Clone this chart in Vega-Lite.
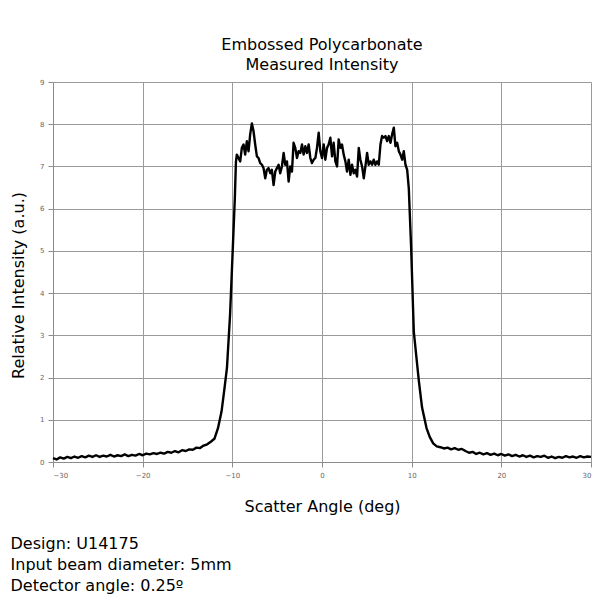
{
  "$schema": "https://vega.github.io/schema/vega-lite/v6.json",
  "background": "white",
  "padding": {"left": 10, "top": 37, "right": 10, "bottom": 10},
  "config": {
    "view": {"stroke": null},
    "font": "DejaVu Sans",
    "axis": {
      "domainColor": "#8c8c8c",
      "gridColor": "#9a9a9a",
      "gridWidth": 1,
      "tickColor": "#8c8c8c",
      "tickSize": 5,
      "labelFont": "DejaVu Sans",
      "labelFontSize": 7,
      "labelColor": "#666666",
      "titleFont": "DejaVu Sans",
      "titleFontSize": 16,
      "titleFontWeight": "normal",
      "titleColor": "black"
    }
  },
  "title": {
    "text": ["Design: U14175", "Input beam diameter: 5mm", "Detector angle: 0.25º"],
    "orient": "bottom",
    "anchor": "start",
    "frame": "bounds",
    "font": "DejaVu Sans",
    "fontSize": 16,
    "fontWeight": "normal",
    "lineHeight": 21,
    "color": "black",
    "offset": 22
  },
  "vconcat": [
    {
      "width": 538,
      "height": 380,
      "title": {
        "text": ["Embossed Polycarbonate", "Measured Intensity"],
        "font": "DejaVu Sans",
        "fontSize": 16,
        "fontWeight": "normal",
        "lineHeight": 20,
        "color": "black",
        "offset": 5
      },
      "data": {
        "values": [
          {"angle": -30.0, "intensity": 0.09}, {"angle": -29.6, "intensity": 0.06}, {"angle": -29.2, "intensity": 0.11}, {"angle": -28.8, "intensity": 0.08},
          {"angle": -28.4, "intensity": 0.12}, {"angle": -28.0, "intensity": 0.09}, {"angle": -27.6, "intensity": 0.13}, {"angle": -27.2, "intensity": 0.10},
          {"angle": -26.8, "intensity": 0.14}, {"angle": -26.4, "intensity": 0.11}, {"angle": -26.0, "intensity": 0.15}, {"angle": -25.6, "intensity": 0.12},
          {"angle": -25.2, "intensity": 0.16}, {"angle": -24.8, "intensity": 0.12}, {"angle": -24.4, "intensity": 0.15}, {"angle": -24.0, "intensity": 0.13},
          {"angle": -23.6, "intensity": 0.17}, {"angle": -23.2, "intensity": 0.13}, {"angle": -22.8, "intensity": 0.16}, {"angle": -22.4, "intensity": 0.14},
          {"angle": -22.0, "intensity": 0.18}, {"angle": -21.6, "intensity": 0.14}, {"angle": -21.2, "intensity": 0.17}, {"angle": -20.8, "intensity": 0.15},
          {"angle": -20.4, "intensity": 0.19}, {"angle": -20.0, "intensity": 0.16}, {"angle": -19.6, "intensity": 0.20}, {"angle": -19.2, "intensity": 0.18},
          {"angle": -18.8, "intensity": 0.21}, {"angle": -18.4, "intensity": 0.19}, {"angle": -18.0, "intensity": 0.22}, {"angle": -17.6, "intensity": 0.20},
          {"angle": -17.2, "intensity": 0.24}, {"angle": -16.8, "intensity": 0.22}, {"angle": -16.4, "intensity": 0.26}, {"angle": -16.0, "intensity": 0.23},
          {"angle": -15.6, "intensity": 0.28}, {"angle": -15.2, "intensity": 0.26}, {"angle": -14.8, "intensity": 0.30}, {"angle": -14.4, "intensity": 0.29},
          {"angle": -14.0, "intensity": 0.34}, {"angle": -13.6, "intensity": 0.33}, {"angle": -13.2, "intensity": 0.39}, {"angle": -12.8, "intensity": 0.42},
          {"angle": -12.4, "intensity": 0.48}, {"angle": -12.0, "intensity": 0.55}, {"angle": -11.6, "intensity": 0.80}, {"angle": -11.2, "intensity": 1.20},
          {"angle": -10.9, "intensity": 1.70}, {"angle": -10.6, "intensity": 2.23}, {"angle": -10.25, "intensity": 3.50}, {"angle": -9.96, "intensity": 5.00},
          {"angle": -9.72, "intensity": 6.26}, {"angle": -9.6, "intensity": 7.10},
          {"angle": -9.50, "intensity": 7.28}, {"angle": -9.31, "intensity": 7.20}, {"angle": -9.12, "intensity": 7.12}, {"angle": -8.94, "intensity": 7.44},
          {"angle": -8.75, "intensity": 7.52}, {"angle": -8.57, "intensity": 7.28}, {"angle": -8.38, "intensity": 7.60}, {"angle": -8.19, "intensity": 7.36},
          {"angle": -8.01, "intensity": 7.76}, {"angle": -7.82, "intensity": 8.02}, {"angle": -7.64, "intensity": 7.84}, {"angle": -7.45, "intensity": 7.52},
          {"angle": -7.26, "intensity": 7.24}, {"angle": -7.08, "intensity": 7.20}, {"angle": -6.89, "intensity": 7.08}, {"angle": -6.70, "intensity": 7.04},
          {"angle": -6.52, "intensity": 6.96}, {"angle": -6.33, "intensity": 6.72}, {"angle": -6.15, "intensity": 6.92}, {"angle": -5.96, "intensity": 6.96},
          {"angle": -5.77, "intensity": 6.84}, {"angle": -5.59, "intensity": 6.92}, {"angle": -5.40, "intensity": 6.56}, {"angle": -5.21, "intensity": 6.88},
          {"angle": -5.03, "intensity": 6.96}, {"angle": -4.84, "intensity": 7.04}, {"angle": -4.66, "intensity": 6.84}, {"angle": -4.47, "intensity": 7.00},
          {"angle": -4.28, "intensity": 7.32}, {"angle": -4.10, "intensity": 7.04}, {"angle": -3.91, "intensity": 7.12}, {"angle": -3.72, "intensity": 6.64},
          {"angle": -3.54, "intensity": 7.00}, {"angle": -3.35, "intensity": 6.88}, {"angle": -3.17, "intensity": 7.56}, {"angle": -2.98, "intensity": 7.44},
          {"angle": -2.79, "intensity": 7.20}, {"angle": -2.61, "intensity": 7.36}, {"angle": -2.42, "intensity": 7.32}, {"angle": -2.23, "intensity": 7.52},
          {"angle": -2.05, "intensity": 7.28}, {"angle": -1.86, "intensity": 7.48}, {"angle": -1.68, "intensity": 7.32}, {"angle": -1.49, "intensity": 7.52},
          {"angle": -1.30, "intensity": 7.20}, {"angle": -1.12, "intensity": 7.08}, {"angle": -0.93, "intensity": 7.16}, {"angle": -0.74, "intensity": 7.20},
          {"angle": -0.56, "intensity": 7.44}, {"angle": -0.37, "intensity": 7.80}, {"angle": -0.19, "intensity": 7.36}, {"angle": 0.00, "intensity": 7.20},
          {"angle": 0.19, "intensity": 7.52}, {"angle": 0.37, "intensity": 7.16}, {"angle": 0.56, "intensity": 7.44}, {"angle": 0.74, "intensity": 7.52},
          {"angle": 0.93, "intensity": 7.68}, {"angle": 1.12, "intensity": 7.24}, {"angle": 1.30, "intensity": 7.56}, {"angle": 1.49, "intensity": 7.12},
          {"angle": 1.68, "intensity": 7.00}, {"angle": 1.86, "intensity": 7.64}, {"angle": 2.05, "intensity": 7.44}, {"angle": 2.23, "intensity": 7.52},
          {"angle": 2.42, "intensity": 7.28}, {"angle": 2.61, "intensity": 7.12}, {"angle": 2.79, "intensity": 6.88}, {"angle": 2.98, "intensity": 7.16},
          {"angle": 3.17, "intensity": 6.80}, {"angle": 3.35, "intensity": 7.04}, {"angle": 3.54, "intensity": 6.84}, {"angle": 3.72, "intensity": 6.92},
          {"angle": 3.91, "intensity": 6.76}, {"angle": 4.10, "intensity": 7.44}, {"angle": 4.28, "intensity": 7.16}, {"angle": 4.47, "intensity": 7.00},
          {"angle": 4.66, "intensity": 6.72}, {"angle": 4.84, "intensity": 7.00}, {"angle": 5.03, "intensity": 7.32}, {"angle": 5.21, "intensity": 7.04},
          {"angle": 5.40, "intensity": 7.12}, {"angle": 5.59, "intensity": 7.04}, {"angle": 5.77, "intensity": 7.16}, {"angle": 5.96, "intensity": 7.04},
          {"angle": 6.15, "intensity": 7.12}, {"angle": 6.33, "intensity": 7.04}, {"angle": 6.52, "intensity": 7.52}, {"angle": 6.70, "intensity": 7.72},
          {"angle": 6.89, "intensity": 7.68}, {"angle": 7.08, "intensity": 7.72}, {"angle": 7.26, "intensity": 7.60}, {"angle": 7.45, "intensity": 7.72},
          {"angle": 7.64, "intensity": 7.56}, {"angle": 7.82, "intensity": 7.76}, {"angle": 8.01, "intensity": 7.92}, {"angle": 8.19, "intensity": 7.48},
          {"angle": 8.38, "intensity": 7.56}, {"angle": 8.57, "intensity": 7.36}, {"angle": 8.75, "intensity": 7.28}, {"angle": 8.94, "intensity": 7.16},
          {"angle": 9.12, "intensity": 7.36}, {"angle": 9.31, "intensity": 7.04}, {"angle": 9.50, "intensity": 6.92}, {"angle": 9.68, "intensity": 6.48},
          {"angle": 9.94, "intensity": 5.08}, {"angle": 10.24, "intensity": 3.08}, {"angle": 10.80, "intensity": 1.92}, {"angle": 11.16, "intensity": 1.29},
          {"angle": 11.65, "intensity": 0.81}, {"angle": 12.0, "intensity": 0.60}, {"angle": 12.4, "intensity": 0.44}, {"angle": 12.8, "intensity": 0.37},
          {"angle": 13.2, "intensity": 0.35}, {"angle": 13.6, "intensity": 0.32}, {"angle": 14.0, "intensity": 0.34}, {"angle": 14.4, "intensity": 0.30},
          {"angle": 14.8, "intensity": 0.33}, {"angle": 15.2, "intensity": 0.29}, {"angle": 15.6, "intensity": 0.31}, {"angle": 16.0, "intensity": 0.26},
          {"angle": 16.4, "intensity": 0.22}, {"angle": 16.8, "intensity": 0.24}, {"angle": 17.2, "intensity": 0.19}, {"angle": 17.6, "intensity": 0.22},
          {"angle": 18.0, "intensity": 0.18}, {"angle": 18.4, "intensity": 0.21}, {"angle": 18.8, "intensity": 0.17}, {"angle": 19.2, "intensity": 0.20},
          {"angle": 19.6, "intensity": 0.16}, {"angle": 20.0, "intensity": 0.19}, {"angle": 20.4, "intensity": 0.15}, {"angle": 20.8, "intensity": 0.18},
          {"angle": 21.2, "intensity": 0.14}, {"angle": 21.6, "intensity": 0.17}, {"angle": 22.0, "intensity": 0.13}, {"angle": 22.4, "intensity": 0.16},
          {"angle": 22.8, "intensity": 0.12}, {"angle": 23.2, "intensity": 0.15}, {"angle": 23.6, "intensity": 0.11}, {"angle": 24.0, "intensity": 0.14},
          {"angle": 24.4, "intensity": 0.12}, {"angle": 24.8, "intensity": 0.15}, {"angle": 25.2, "intensity": 0.10}, {"angle": 25.6, "intensity": 0.13},
          {"angle": 26.0, "intensity": 0.09}, {"angle": 26.4, "intensity": 0.12}, {"angle": 26.8, "intensity": 0.10}, {"angle": 27.2, "intensity": 0.14},
          {"angle": 27.6, "intensity": 0.11}, {"angle": 28.0, "intensity": 0.13}, {"angle": 28.4, "intensity": 0.10}, {"angle": 28.8, "intensity": 0.14},
          {"angle": 29.2, "intensity": 0.11}, {"angle": 29.6, "intensity": 0.13}, {"angle": 30.0, "intensity": 0.12}
        ]
      },
      "mark": {"type": "line", "color": "black", "strokeWidth": 2.4, "strokeJoin": "round"},
      "encoding": {
        "x": {
          "field": "angle",
          "type": "quantitative",
          "scale": {"domain": [-30, 30], "nice": false, "zero": false},
          "axis": {
            "values": [-30, -20, -10, 0, 10, 20, 30],
            "title": "Scatter Angle (deg)",
            "titlePadding": 20,
            "labelPadding": 4,
            "grid": true
          }
        },
        "y": {
          "field": "intensity",
          "type": "quantitative",
          "scale": {"domain": [0, 9], "nice": false},
          "axis": {
            "values": [0, 1, 2, 3, 4, 5, 6, 7, 8, 9],
            "title": "Relative Intensity (a.u.)",
            "titlePadding": 13,
            "titleY": 203,
            "labelPadding": 4,
            "grid": true
          }
        }
      }
    }
  ]
}
